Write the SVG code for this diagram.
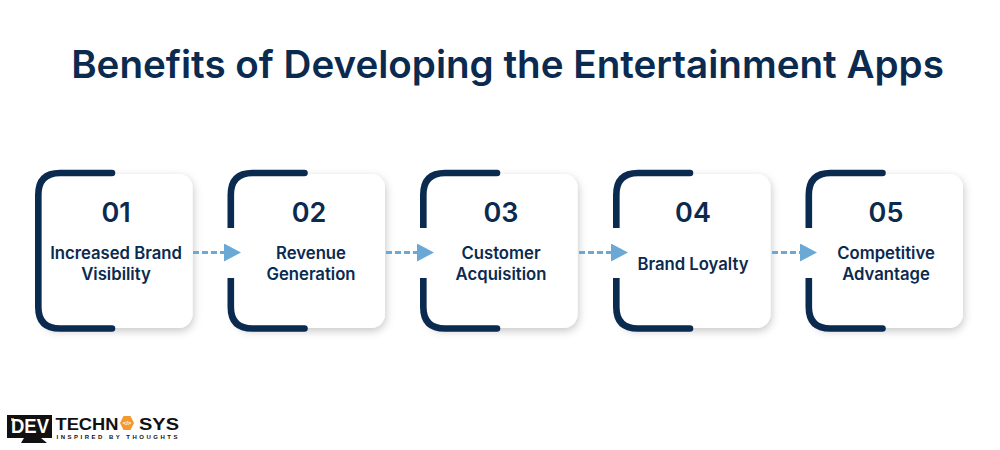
<svg xmlns="http://www.w3.org/2000/svg" width="1000" height="450" viewBox="0 0 1000 450">
<defs>
<filter id="sh" x="-20%" y="-20%" width="140%" height="140%"><feDropShadow dx="1" dy="3" stdDeviation="4" flood-color="#000" flood-opacity="0.22"/></filter>
<marker id="ah" markerUnits="userSpaceOnUse" markerWidth="17" markerHeight="18" refX="0" refY="9" orient="auto"><path d="M0 0L17 9L0 18Z" fill="#6aa9d6"/></marker>
</defs>
<style>
text{font-family:"Inter","Noto Sans","Liberation Sans",sans-serif;fill:#0b2a50;text-anchor:middle}
.t{font-size:38.6px;font-weight:600}
.n{font-size:27px;font-weight:600}
.l{font-size:16.700px;font-weight:600}
.c{fill:#fff;filter:url(#sh)}
.g{fill:#fff}
.b{fill:none;stroke:#0b2a50;stroke-width:6.6;stroke-linecap:round}
.a{fill:none;stroke:#6aa9d6;stroke-width:3;stroke-dasharray:6 3;marker-end:url(#ah)}
.k{font-family:"Liberation Sans",sans-serif;font-weight:700;fill:#111}
</style>
<rect width="1000" height="450" fill="#fff"/>
<text class="t" x="507.500" y="77.500">Benefits of Developing the Entertainment Apps</text>
<g id="node1">
<rect class="c" x="42" y="174" width="150.500" height="154" rx="14"/>
<path class="b" d="M112 173H60Q38.300 173 38.300 195V307Q38.300 328.500 60 328.500H112"/>
<text class="n" x="116" y="222">01</text>
<text class="l" x="116" y="258.500">Increased Brand</text>
<text class="l" x="116" y="279.500">Visibility</text>
</g>
<g id="node2">
<rect class="c" x="234.500" y="174" width="150.500" height="154" rx="14"/>
<path class="b" d="M304.500 173H252.500Q230.800 173 230.800 195V307Q230.800 328.500 252.500 328.500H304.500"/>
<rect class="g" x="222" y="228" width="14" height="50"/>
<text class="n" x="309" y="222">02</text>
<text class="l" x="311" y="258.500">Revenue</text>
<text class="l" x="311" y="279.500">Generation</text>
</g>
<g id="node3">
<rect class="c" x="427" y="174" width="150.500" height="154" rx="14"/>
<path class="b" d="M497 173H445Q423.300 173 423.300 195V307Q423.300 328.500 445 328.500H497"/>
<rect class="g" x="414.500" y="228" width="14" height="50"/>
<text class="n" x="501" y="222">03</text>
<text class="l" x="501" y="258.500">Customer</text>
<text class="l" x="501" y="279.500">Acquisition</text>
</g>
<g id="node4">
<rect class="c" x="620" y="174" width="150.500" height="154" rx="14"/>
<path class="b" d="M690 173H638Q616.300 173 616.300 195V307Q616.300 328.500 638 328.500H690"/>
<rect class="g" x="607.500" y="228" width="14" height="50"/>
<text class="n" x="693" y="222">04</text>
<text class="l" x="693" y="269.500">Brand Loyalty</text>
</g>
<g id="node5">
<rect class="c" x="812.500" y="174" width="150.500" height="154" rx="14"/>
<path class="b" d="M882.500 173H830.500Q808.800 173 808.800 195V307Q808.800 328.500 830.500 328.500H882.500"/>
<rect class="g" x="800" y="228" width="14" height="50"/>
<text class="n" x="886" y="222">05</text>
<text class="l" x="886" y="258.500">Competitive</text>
<text class="l" x="886" y="279.500">Advantage</text>
</g>
<g id="connectors">
<path class="a" d="M193 252.500H224"/>
<path class="a" d="M386 252.500H417"/>
<path class="a" d="M579 252.500H611"/>
<path class="a" d="M772 252.500H800"/>
</g>
<g id="logo">
<rect x="7" y="415" width="45" height="23" fill="#111"/>
<path d="M24 438H41L47 443H21Z" fill="#111"/>
<rect x="11" y="418" width="3" height="3" fill="#f29a2e"/>
<text class="k" x="30" y="433" style="font-size:20px;fill:#fff" textLength="38" lengthAdjust="spacingAndGlyphs">DEV</text>
<text class="k" x="87" y="429.500" style="font-size:16.500px" textLength="63" lengthAdjust="spacingAndGlyphs">TECHN</text>
<path d="M120 423L123.500 416H130.500L134 423L130.500 430H123.500Z" fill="#f29a2e"/>
<text class="k" x="127" y="425" style="font-size:6px;fill:#fff">&lt;/&gt;</text>
<text class="k" x="159" y="429.500" style="font-size:16.500px" textLength="40" lengthAdjust="spacingAndGlyphs">SYS</text>
<text class="k" x="117" y="438.500" style="font-size:6px" textLength="121">INSPIRED BY THOUGHTS</text>
</g>
</svg>
